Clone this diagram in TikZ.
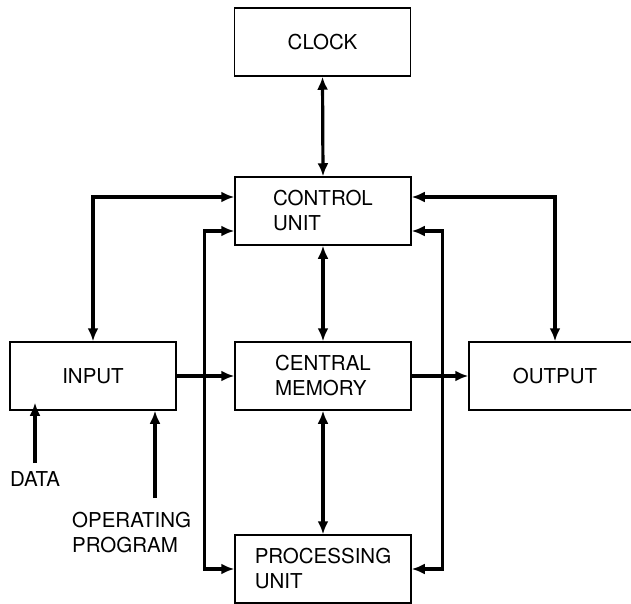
\documentclass[tikz,border=0pt]{standalone}
\usepackage{fontspec}
\setmainfont{TeX Gyre Heros}
\usetikzlibrary{arrows.meta}

\tikzset{
  unitbox/.style={draw,line width=1.5pt,minimum width=176pt,minimum height=68pt,
                  align=left,inner sep=0pt},
  flow/.style={line width=3.2pt},
  lbl/.style={align=left,inner sep=0pt},
}

\begin{document}
\begin{tikzpicture}[x=1pt,y=-1pt,>={Latex[length=13pt,width=11pt]},line join=miter,
                    font=\fontsize{20.5}{25}\selectfont]
\useasboundingbox (0,0) rectangle (631,604);

%% ---------------- the units ----------------
\node[unitbox] (clock) at (322.5,42) {CLOCK};
\node[unitbox] (control) at (323,211) {CONTROL\\UNIT};
\node[unitbox] (memory) at (323,376) {CENTRAL\\MEMORY};
\node[unitbox] (processing) at (323,569) {PROCESSING\\UNIT};
\node[unitbox,minimum width=166pt] (input) at (93,376) {INPUT};
\node[unitbox,minimum width=172pt] (output) at (555,376) {OUTPUT};

%% ---------------- outside labels ----------------
\node[lbl,anchor=north] (data) at (35,471) {DATA};
\node[lbl,anchor=north west] (opprog) at (72,512) {OPERATING\\PROGRAM};
\coordinate (progtail) at (155,498);

%% ---------------- the main column ----------------
\draw[flow,<->] (clock.south) -- (control.north);
\draw[flow,<->] (control.south) -- (memory.north);
\draw[flow,<->] (memory.south) -- (processing.north);

%% ---------------- control lines ----------------
\draw[flow,<->] ([yshift=14pt]control.west) -| (input.north);
\draw[flow,<->] ([yshift=14pt]control.east) -| (output.north);
\draw[flow,<->] ([yshift=-20pt]control.west) -- ++(-30,0) |- (processing.west);
\draw[flow,<->] ([yshift=-20pt]control.east) -- ++(31,0) |- (processing.east);

%% ---------------- data path ----------------
\draw[flow,->] (input.east) -- (memory.west);
\draw[flow,->] (memory.east) -- (output.west);
\draw[flow,->] ([yshift=8pt]data.north) -- ([yshift=8pt]data.north |- input.south);
\draw[flow,->] (progtail) -- (progtail |- input.south);

\end{tikzpicture}
\end{document}
